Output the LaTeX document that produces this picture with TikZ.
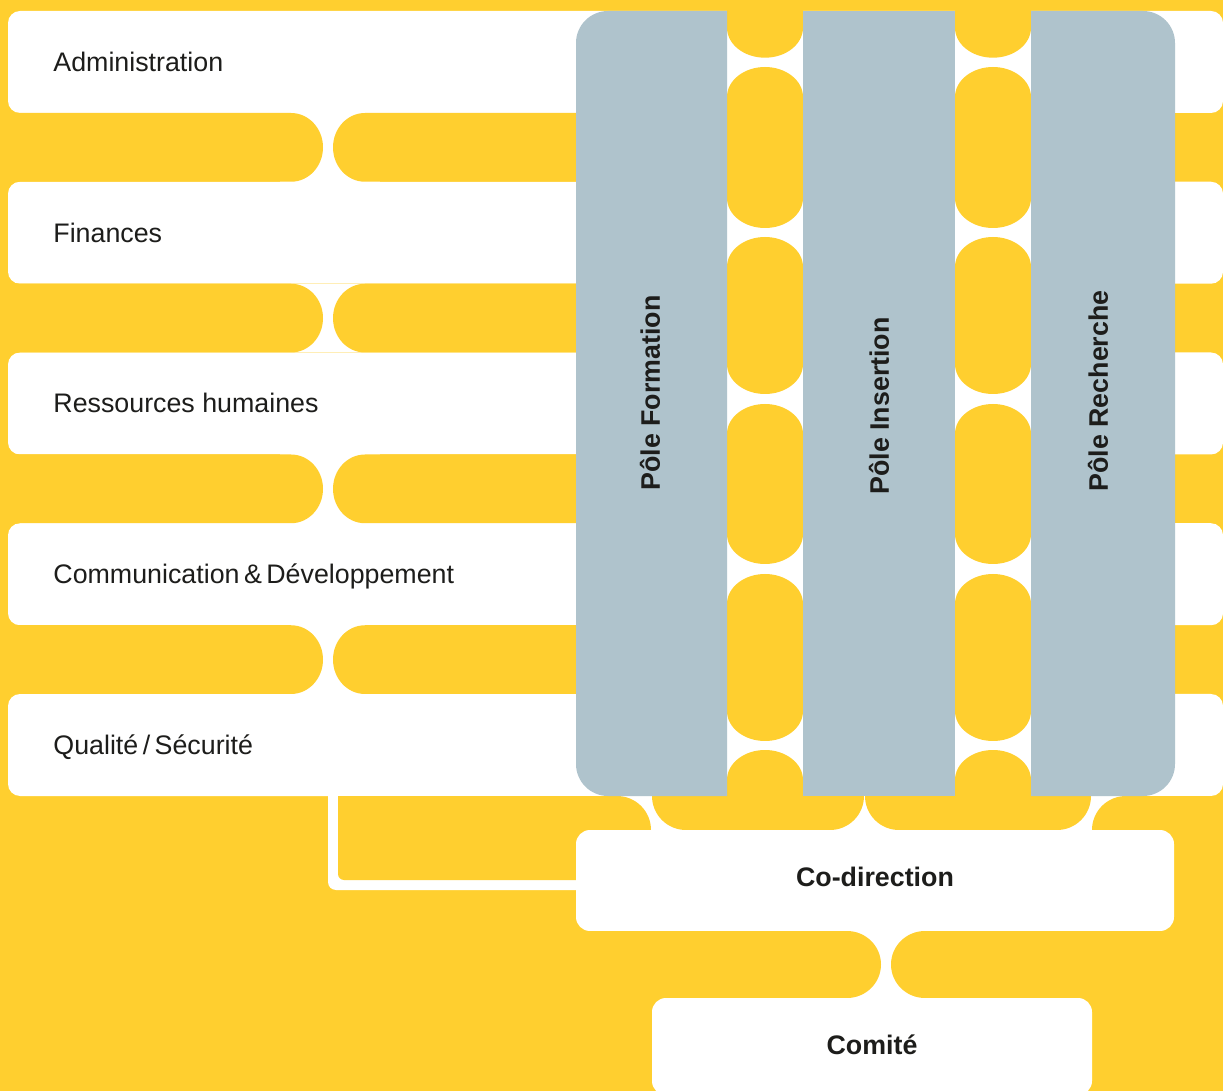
\documentclass[tikz,border=0pt]{standalone}
\usepackage{fontspec}
\setmainfont{Liberation Sans}
\definecolor{yel}{HTML}{FFCF2F}
\definecolor{pole}{HTML}{AFC3CC}
\definecolor{ink}{HTML}{1D1D1B}
\begin{document}
\begin{tikzpicture}[x=0.5pt,y=-0.5pt,
  lbl/.style={text=ink, font=\fontsize{13.4}{16}\selectfont, inner sep=0pt},
  blbl/.style={text=ink, font=\fontsize{13.4}{16}\selectfont\bfseries, inner sep=0pt},
  rowbox/.style={fill=white, rounded corners=6pt},
  polebox/.style={fill=pole},
  yfill/.style={fill=yel}]
\useasboundingbox (0,0) rectangle (1223,1091);
\fill[yel] (0,0) rectangle (1223,1091);
% rows
\foreach \t in {11,181.75,352.5,523.25,694}
  \path[rowbox] (8,\t) rectangle (1223,\t+102);
% gaps between rows
\foreach \b in {113,283.75,454.5,625.25} {
  \pgfmathsetmacro\e{\b+68.75}
  \fill[white] (280,\b) rectangle (380,\e);
  \path[yfill] (-10,\b) -- (291,\b) arc[start angle=270,end angle=450,x radius=32,y radius=34.375] -- (-10,\e) -- cycle;
  \path[yfill] (365,\b) arc[start angle=270,end angle=90,x radius=32,y radius=34.375] -- (600,\e) -- (600,\b) -- cycle;
}
% white L link to co-direction
\fill[white] (328,790) -- (328,882) arc[start angle=180,end angle=90,radius=8] -- (590,890) -- (590,790) -- cycle;
\path[yfill] (338,796) -- (338,874) arc[start angle=180,end angle=90,radius=6] -- (600,880) -- (600,796) -- cycle;
% band under rows
\fill[white] (600,795) rectangle (1174,830);
\path[yfill] (560,796) -- (617,796) arc[start angle=270,end angle=360,x radius=34,y radius=34] -- (560,830) -- cycle;
\path[yfill] (652,796) -- (864,796) arc[start angle=0,end angle=90,x radius=34,y radius=34] -- (686,830) arc[start angle=90,end angle=180,x radius=34,y radius=34] -- cycle;
\path[yfill] (865,796) -- (1091,796) arc[start angle=0,end angle=90,x radius=34,y radius=34] -- (899,830) arc[start angle=90,end angle=180,x radius=34,y radius=34] -- cycle;
\path[yfill] (1092,834) -- (1092,830) arc[start angle=180,end angle=270,x radius=34,y radius=34] -- (1240,796) -- (1240,834) -- cycle;
% columns between poles
\foreach \xa in {727,955} {
  \pgfmathsetmacro\xb{\xa+76}
  \fill[white] (\xa,11) rectangle (\xb,796);
  \path[yfill] (\xa,-5) -- (\xb,-5) -- (\xb,27.7) arc[start angle=0,end angle=180,x radius=38,y radius=30] -- cycle;
  \foreach \ya/\yb in {67/228,237/394,404/564,574/741}
    \path[yfill] (\xa,\ya+30) arc[start angle=180,end angle=360,x radius=38,y radius=30] -- (\xb,\yb-30) arc[start angle=0,end angle=180,x radius=38,y radius=30] -- cycle;
  \path[yfill] (\xa,780) arc[start angle=180,end angle=360,x radius=38,y radius=30] -- (\xb,830) -- (\xa,830) -- cycle;
}
% poles
\path[polebox] (727,11) -- (727,796) -- (608,796) arc[start angle=90,end angle=180,radius=32] -- (576,43) arc[start angle=180,end angle=270,radius=32] -- cycle;
\path[polebox] (803,11) rectangle (955,796);
\path[polebox] (1031,11) -- (1143,11) arc[start angle=270,end angle=360,radius=32] -- (1175,764) arc[start angle=0,end angle=90,radius=32] -- (1031,796) -- cycle;
% co-direction
\path[rowbox,rounded corners=7pt] (576,830) rectangle (1174,931);
% gap to comite
\fill[white] (820,931) rectangle (950,998);
\path[yfill] (560,931) -- (847,931) arc[start angle=270,end angle=450,x radius=34,y radius=33.5] -- (560,998) -- cycle;
\path[yfill] (925,931) arc[start angle=270,end angle=90,x radius=34,y radius=33.5] -- (1240,998) -- (1240,931) -- cycle;
% comite
\path[rowbox,rounded corners=7pt] (652,998) rectangle (1092,1095);
% labels
\node[lbl,anchor=base west] (adm) at (53,71.5) {Administration};
\node[lbl,anchor=base west] (fin) at (53,242.25) {Finances};
\node[lbl,anchor=base west] (rh) at (53,413) {Ressources humaines};
\node[lbl,anchor=base west] (com) at (53,583.75) {Communication\,\&\,Développement};
\node[lbl,anchor=base west] (qual) at (53,754.5) {Qualité\,/\,Sécurité};
\node[blbl,rotate=90] (pf) at (650,393) {Pôle Formation};
\node[blbl,rotate=90] (pi) at (879,406) {Pôle Insertion};
\node[blbl,rotate=90] (pr) at (1098,391) {Pôle Recherche};
\node[blbl,anchor=base] (codir) at (875,886) {Co-direction};
\node[blbl,anchor=base] (comite) at (872,1054) {Comité};
\end{tikzpicture}
\end{document}
